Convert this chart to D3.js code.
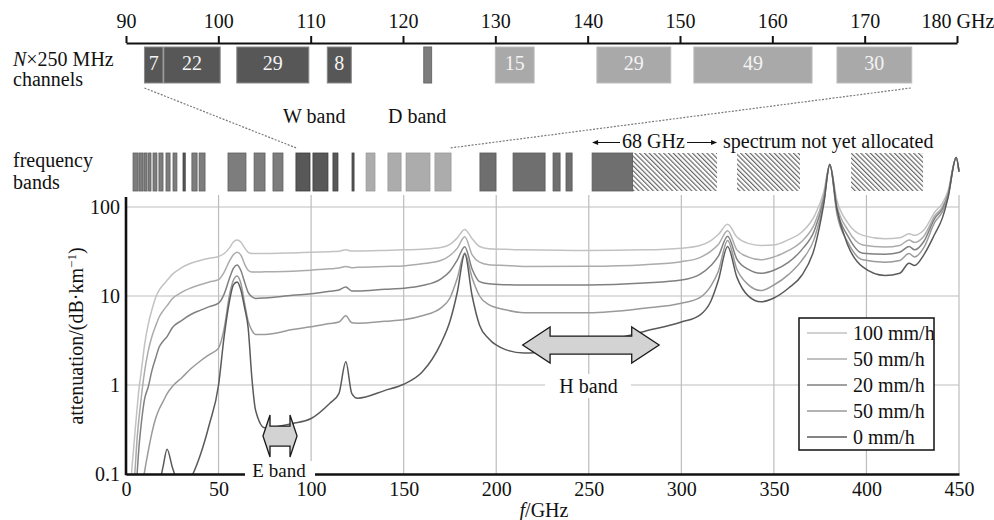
<!DOCTYPE html>
<html>
<head>
<meta charset="utf-8">
<script src="https://cdn.jsdelivr.net/npm/d3@7"></script>
<style>
  html, body { margin: 0; padding: 0; background: #fff; }
  svg { display: block; font-family: "Liberation Serif", "DejaVu Serif", serif; }
</style>
</head>
<body>
<svg id="chart" width="994" height="520"></svg>
<script>
// ---------------- DATA ----------------
const freqGHz = [1,2,3,4,5,6,7,8,9,10,12,14,16,18,20,22.2,25,30,35,40,45,50,53,56,58,60,62,64,66,68,70,75,90,100,110,115,118.75,122,125,140,150,160,170,175,179,183,187,191,196,205,215,250,280,300,310,316,320,325,330,336,343,350,358,365,372,377,380.2,384,390,398,410,418,423,426,431,437,441,444,448.5,450];

const rain100 = [0.005,0.03,0.1,0.18,0.32,0.55,0.9,1.3,1.9,2.8,4.8,7.0,9.6,11.7,13.3,15,17.5,20.8,23.3,25,26.5,27.8,30,35,40.5,42.5,40.5,35,31,30,30,30,30.5,31,31.5,31.8,33,32,32,32.5,33,33.5,35,38,45,56,44,36,34,33.5,33,32.5,33,34.5,37,42,49,64,46,39,37,37.5,43,52,80,150,300,120,66,48,44,45,50,48,55,88,110,150,360,250];
const rain50a = [0.002,0.008,0.025,0.06,0.12,0.25,0.42,0.65,0.98,1.4,2.4,3.5,4.6,5.85,6.8,7.8,9.3,11,12.3,13.4,14.4,15.3,18.5,25,29,31,29,23,19.5,18.6,18.6,18.7,19,19.5,20.2,20.6,21.5,20.8,21,21.5,21.8,23,25,28.5,34.5,46.4,29,24,22.5,22,21.5,21.6,22.5,24.3,27,32,38,54,33,27.5,25.5,27.5,32.5,41,65,135,300,105,55,37.4,35.5,37,42.5,40,47,80,100,140,360,250];
const rain20 = [0.001,0.003,0.008,0.02,0.05,0.1,0.2,0.33,0.5,0.69,0.95,1.45,2.0,2.69,3.1,3.5,4.4,5.3,6.2,6.9,7.6,8.3,10.5,16,20.5,22.3,19.5,14.5,11,9.8,9.4,9.5,10.2,10.6,11.3,11.7,12.6,11.4,11.4,11.9,12.2,13.1,15.5,19,25.5,35.8,20,14.5,13.7,13.4,13.3,13.3,14,15.1,17.5,22,28,47,26,20,18,19.5,24,33,55,125,300,95,47,30.2,29.5,31,36,33,41,75,95,135,360,250];
const rain50b = [0.0005,0.001,0.002,0.004,0.008,0.015,0.025,0.045,0.075,0.105,0.18,0.29,0.42,0.54,0.65,0.8,0.96,1.2,1.52,1.85,2.2,2.6,4.3,10.5,15,16.8,14,8.5,5.2,4.1,3.7,3.7,4.2,4.5,4.9,5.1,6.0,5.0,4.95,5.2,5.4,6.0,7.3,9.5,15.9,30.4,15.9,10,8,7.0,6.5,6.5,7.3,8.3,9.6,13,19,42,20,13.5,11.5,13.3,17.5,25,45,115,300,85,40,25.5,24,25,30,27.5,35,68,88,130,360,250];
const rain0 = [0.006,0.007,0.008,0.009,0.01,0.011,0.012,0.013,0.015,0.017,0.022,0.03,0.045,0.075,0.12,0.19,0.12,0.07,0.09,0.16,0.36,1.0,3.5,9,13.3,14.4,11.8,7.5,4.37,1.2,0.52,0.33,0.37,0.42,0.62,0.8,1.83,0.8,0.71,0.87,1.02,1.4,2.9,5.2,11.1,29.7,10,4.7,3.3,2.5,2.29,2.8,4.0,5.1,6.1,8.8,15,36,16.3,10.1,8.6,9.5,12.3,17,35,110,300,95,37,21.2,17,18,23.4,22,29,50,75,125,360,250];

const seriesLabels = ["100 mm/h", "50 mm/h", "20 mm/h", "50 mm/h", "0 mm/h"];
const seriesValues = [rain100, rain50a, rain20, rain50b, rain0];

const xTicks = [0,50,100,150,200,250,300,350,400,450];
const yTicks = [0.1, 1, 10, 100];
const topTicks = [90,100,110,120,130,140,150,160,170,180];

// N x 250 MHz channels (GHz on the top scale)
const chanStart = [92, 94.1, 102, 111.8, 122.25, 130, 141, 151.5, 167];
const chanEnd   = [94, 100.2, 109.8, 114.4, 123.1, 134.2, 149, 164.3, 175.1];
const chanLabel = ["7", "22", "29", "8", "", "15", "29", "49", "30"];
const chanTone  = ["dark","dark","dark","dark","mid","light","light","light","light"];

// frequency bands strip (GHz on the bottom scale)
const bandStart = [3.8,7.0,9.7,11.9,14.6,17.8,21.6,25.4,30.8,35.6,39.5, 55.1,69.2,79.4, 91.8,101,111.8,122.1, 129.7,141.5,151.3,166.9, 191.2,209.1,230.7,237.7,251.8];
const bandEnd   = [6.5,9.2,11.3,13.5,16.7,20.0,23.8,27.5,32.0,38.4,42.7, 64.8,75.1,84.8, 99.4,109.1,114.5,123.2, 134.5,148.6,164.2,175.6, 199.9,226.4,234.5,241.0,273.9];
const bandTone  = ["m","m","m","m","m","m","m","m","d","m","m", "m","m","m", "d","d","d","d", "l","l","l","l", "r","r","r","r","r"];
const hatchStart = [273.9, 330.1, 391.7];
const hatchEnd   = [319.3, 364.1, 430.6];

// ---------------- STYLE ----------------
const seriesColors = ["#c2c2c2", "#ababab", "#808080", "#9a9a9a", "#5a5a5a"];
const toneFill = {dark:"#575757", mid:"#7c7c7c", light:"#a9a9a9", m:"#7d7d7d", d:"#585858", l:"#acacac", r:"#6f6f6f"};
const toneStroke = {dark:"#8a8a8a", mid:"#6a6a6a", light:"#bdbdbd", m:"#5e5e5e", d:"#3e3e3e", l:"#9a9a9a", r:"#5a5a5a"};
const FS = 20;

const svg = d3.select("#chart");
svg.append("rect").attr("width", 994).attr("height", 520).attr("fill", "#fff");

const x = d3.scaleLinear().domain([0, 450]).range([126, 959]);
const y = d3.scaleLog().domain([0.1, 100]).range([474, 207]);
const xTop = d3.scaleLinear().domain([90, 180]).range([126, 957]);

const defs = svg.append("defs");
const pat = defs.append("pattern").attr("id", "hatch").attr("patternUnits", "userSpaceOnUse")
  .attr("width", 3.4).attr("height", 3.4).attr("patternTransform", "rotate(-45)");
pat.append("rect").attr("width", 3.4).attr("height", 3.4).attr("fill", "#fff");
pat.append("line").attr("x1", 0.6).attr("y1", 0).attr("x2", 0.6).attr("y2", 3.4)
  .attr("stroke", "#5a5a5a").attr("stroke-width", 1.1);
defs.append("clipPath").attr("id", "plotclip").append("rect")
  .attr("x", 126).attr("y", 130).attr("width", 834).attr("height", 344);

// ---------------- TOP AXIS ----------------
const gTop = svg.append("g").attr("transform", "translate(0,43)")
  .call(d3.axisTop(xTop).tickValues(topTicks).tickSize(7).tickSizeOuter(0).tickPadding(8)
    .tickFormat(d => d === 180 ? "180 GHz" : d));
gTop.select(".domain").attr("stroke", "#111").attr("stroke-width", 2);
gTop.selectAll(".tick line").attr("stroke", "#111").attr("stroke-width", 2);
gTop.selectAll(".tick text").attr("font-size", FS).attr("font-family", "Liberation Serif").attr("fill", "#111");
gTop.selectAll(".tick text").filter(d => d === 180).attr("text-anchor", "start").attr("x", -36);

// channels
const chG = svg.append("g");
chanStart.forEach((s, i) => {
  const x0 = xTop(s), x1 = xTop(chanEnd[i]);
  chG.append("rect").attr("x", x0).attr("y", 47).attr("width", x1 - x0).attr("height", 36)
    .attr("fill", toneFill[chanTone[i]]).attr("stroke", toneStroke[chanTone[i]]).attr("stroke-width", 1);
  if (chanLabel[i]) chG.append("text").attr("x", (x0 + x1) / 2).attr("y", 70).attr("text-anchor", "middle")
    .attr("font-size", FS).attr("fill", "#f4f4f4").text(chanLabel[i]);
});

// left labels
const lt = svg.append("text").attr("x", 13).attr("y", 66).attr("font-size", FS).attr("fill", "#111");
lt.append("tspan").attr("font-style", "italic").text("N");
lt.append("tspan").text("×250 MHz");
svg.append("text").attr("x", 13).attr("y", 86).attr("font-size", FS).attr("fill", "#111").text("channels");
svg.append("text").attr("x", 13).attr("y", 167).attr("font-size", FS).attr("fill", "#111").text("frequency");
svg.append("text").attr("x", 13).attr("y", 189).attr("font-size", FS).attr("fill", "#111").text("bands");

// dotted connectors
[[92, 92], [175, 175]].forEach(p => {
  svg.append("line").attr("x1", xTop(p[0])).attr("y1", 88).attr("x2", x(p[1])).attr("y2", 148)
    .attr("stroke", "#7a7a7a").attr("stroke-width", 1.2).attr("stroke-dasharray", "2,1.5");
});
svg.append("text").attr("x", 283).attr("y", 123).attr("font-size", FS).attr("fill", "#111").text("W band");
svg.append("text").attr("x", 388).attr("y", 123).attr("font-size", FS).attr("fill", "#111").text("D band");

// 68 GHz annotation
const a0 = x(251.8), a1 = x(319.3), ay = 142.5;
svg.append("line").attr("x1", a0 + 1).attr("y1", ay).attr("x2", 620).attr("y2", ay).attr("stroke", "#111").attr("stroke-width", 1);
svg.append("path").attr("d", `M${a0},${ay} l6,-2.5 l0,5 z`).attr("fill", "#111");
svg.append("line").attr("x1", 687).attr("y1", ay).attr("x2", a1 - 1).attr("y2", ay).attr("stroke", "#111").attr("stroke-width", 1);
svg.append("path").attr("d", `M${a1},${ay} l-6,-2.5 l0,5 z`).attr("fill", "#111");
svg.append("text").attr("x", 653.5).attr("y", 148).attr("text-anchor", "middle").attr("font-size", FS).attr("fill", "#111").text("68 GHz");
svg.append("text").attr("x", 723).attr("y", 148).attr("font-size", FS).attr("fill", "#111").text("spectrum not yet allocated");

// band strip
const bG = svg.append("g");
bandStart.forEach((s, i) => {
  bG.append("rect").attr("x", x(s)).attr("y", 153).attr("width", x(bandEnd[i]) - x(s)).attr("height", 38)
    .attr("fill", toneFill[bandTone[i]]).attr("stroke", toneStroke[bandTone[i]]).attr("stroke-width", 0.8);
});
hatchStart.forEach((s, i) => {
  bG.append("rect").attr("x", x(s)).attr("y", 153).attr("width", x(hatchEnd[i]) - x(s)).attr("height", 38)
    .attr("fill", "url(#hatch)");
});

// ---------------- GRID ----------------
const grid = svg.append("g").attr("stroke", "#bdbdbd").attr("stroke-width", 1.2);
xTicks.filter(d => d > 0).forEach(d => {
  grid.append("line").attr("x1", x(d)).attr("x2", x(d)).attr("y1", 195).attr("y2", 474);
});
yTicks.filter(d => d > 0.1).forEach(d => {
  grid.append("line").attr("x1", 126).attr("x2", 959).attr("y1", y(d)).attr("y2", y(d));
});

// ---------------- CURVES ----------------
const line = d3.line().x(d => x(d[0])).y(d => y(d[1])).curve(d3.curveMonotoneX);
const cG = svg.append("g").attr("clip-path", "url(#plotclip)");
seriesValues.forEach((vals, i) => {
  const pts = freqGHz.map((f, j) => [f, vals[j]]);
  cG.append("path").attr("d", line(pts)).attr("fill", "none")
    .attr("stroke", seriesColors[i]).attr("stroke-width", 1.5);
});

// ---------------- ARROWS ----------------
function dblArrow(fl, fb1, fb2, fr, v, hh, sh) {
  const xl = x(fl), xb1 = x(fb1), xb2 = x(fb2), xr = x(fr), yc = y(v);
  const pts = [[xl, yc], [xb1, yc - hh], [xb1, yc - sh], [xb2, yc - sh], [xb2, yc - hh], [xr, yc],
               [xb2, yc + hh], [xb2, yc + sh], [xb1, yc + sh], [xb1, yc + hh]];
  svg.append("polygon").attr("points", pts.map(p => p.join(",")).join(" "))
    .attr("fill", "#d3d3d3").attr("stroke", "#1a1a1a").attr("stroke-width", 1.3).attr("stroke-linejoin", "miter");
}
dblArrow(214.3, 229.1, 273.2, 288, 2.81, 18, 9);
dblArrow(74, 77.8, 88.6, 92.4, 0.267, 21, 10);

// H band label
svg.append("rect").attr("x", 545).attr("y", 374).attr("width", 86).attr("height", 24).attr("fill", "#fff");
svg.append("text").attr("x", 588.5).attr("y", 393).attr("text-anchor", "middle").attr("font-size", FS).attr("fill", "#111").text("H band");

// ---------------- AXES ----------------
// E band label background (drawn before the axis tick labels so it never hides them)
svg.append("rect").attr("x", 245).attr("y", 461).attr("width", 70).attr("height", 19).attr("fill", "#fff");

const gx = svg.append("g").attr("transform", "translate(0,474)")
  .call(d3.axisBottom(x).tickValues(xTicks).tickSize(0).tickSizeOuter(0).tickPadding(8));
gx.select(".domain").attr("stroke", "#111").attr("stroke-width", 2.6);
gx.selectAll(".tick text").attr("font-size", FS).attr("font-family", "Liberation Serif").attr("fill", "#111");

const gy = svg.append("g").attr("transform", "translate(126,0)")
  .call(d3.axisLeft(y).tickValues(yTicks).tickSize(0).tickPadding(6).tickFormat(d => d === 0.1 ? "0.1" : String(d)));
gy.select(".domain").remove();
gy.selectAll(".tick text").attr("font-size", FS).attr("font-family", "Liberation Serif").attr("fill", "#111");
svg.append("line").attr("x1", 126).attr("x2", 126).attr("y1", 197).attr("y2", 475.3)
  .attr("stroke", "#111").attr("stroke-width", 2.6);

// E band label: white band over the axis line, text on top
svg.append("rect").attr("x", 245).attr("y", 471).attr("width", 70).attr("height", 6).attr("fill", "#fff");
svg.append("text").attr("x", 279).attr("y", 477).attr("text-anchor", "middle").attr("font-size", 19).attr("fill", "#111").text("E band");

// axis titles
const yt = svg.append("text").attr("transform", "translate(83,336) rotate(-90)").attr("text-anchor", "middle")
  .attr("font-size", FS).attr("fill", "#111");
yt.append("tspan").text("attenuation/(dB·km");
yt.append("tspan").attr("font-size", 13).attr("dy", -7).text("−1");
yt.append("tspan").attr("dy", 7).text(")");

const xt = svg.append("text").attr("x", 544).attr("y", 517).attr("text-anchor", "middle").attr("font-size", FS).attr("fill", "#111");
xt.append("tspan").attr("font-style", "italic").text("f");
xt.append("tspan").text("/GHz");

// ---------------- LEGEND ----------------
const lg = svg.append("g");
lg.append("rect").attr("x", 799).attr("y", 318).attr("width", 135).attr("height", 132)
  .attr("fill", "#fff").attr("stroke", "#111").attr("stroke-width", 1.5);
const rowY = [333, 359, 385, 411, 437];
seriesLabels.forEach((lab, i) => {
  lg.append("line").attr("x1", 807).attr("x2", 847).attr("y1", rowY[i]).attr("y2", rowY[i])
    .attr("stroke", seriesColors[i]).attr("stroke-width", 1.5);
  lg.append("text").attr("x", 853).attr("y", rowY[i] + 6.5).attr("font-size", FS).attr("fill", "#111").text(lab);
});
</script>
</body>
</html>
